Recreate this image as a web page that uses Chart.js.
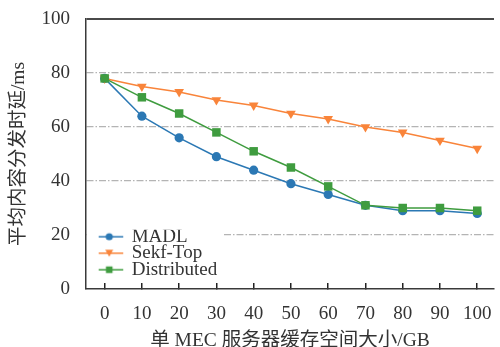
<!DOCTYPE html>
<html>
<head>
<meta charset="utf-8">
<script src="https://cdn.jsdelivr.net/npm/chart.js@4.4.1/dist/chart.umd.min.js"></script>
<style>
  html, body { margin: 0; padding: 0; background: #fff; }
</style>
</head>
<body>
<canvas id="myChart" width="500" height="347"></canvas>
<script>
var cacheSize = [0, 10, 20, 30, 40, 50, 60, 70, 80, 90, 100];
var madl = [78, 64, 56, 49, 44, 39, 35, 31, 29, 29, 28];
var sekfTop = [78, 75, 73, 70, 68, 65, 63, 60, 58, 55, 52];
var distributed = [78, 71, 65, 58, 51, 45, 38, 31, 30, 30, 29];
var seriesNames = ['MADL', 'Sekf-Top', 'Distributed'];
var yTickValues = [0, 20, 40, 60, 80, 100];

var blue = '#2b78b4';
var orange = '#f9843a';
var green = '#3f9c3f';
var textColor = '#333333';
var serif = "'Liberation Serif', 'Times New Roman', serif";
var mixed = "'Liberation Serif', 'Noto Sans CJK SC', serif";

function points(ys) {
  return ys.map(function (y, i) {
    return { x: cacheSize[i], y: y };
  });
}

// small line + marker icons for the legend
function legendIcon(color, shape) {
  var c = document.createElement('canvas');
  c.width = 30;
  c.height = 14;
  var g = c.getContext('2d');
  g.strokeStyle = color;
  g.fillStyle = color;
  g.lineWidth = 1.5;
  g.beginPath();
  g.moveTo(1, 7);
  g.lineTo(29, 7);
  g.stroke();
  g.beginPath();
  if (shape === 'circle') {
    g.arc(15, 7, 3.6, 0, Math.PI * 2);
  } else if (shape === 'rect') {
    g.rect(11.7, 3.7, 6.6, 6.6);
  } else {
    g.moveTo(11, 3.5);
    g.lineTo(19, 3.5);
    g.lineTo(15, 10.5);
    g.closePath();
  }
  g.fill();
  return c;
}
var icons = [legendIcon(blue, 'circle'), legendIcon(orange, 'tri'), legendIcon(green, 'rect')];

var legendPlace = {
  id: 'legendPlace',
  afterLayout: function (chart) {
    var lg = chart.legend;
    var a = chart.chartArea;
    lg.left = a.left + 12.7;
    lg.right = a.right;
    lg.top = a.bottom - 59.3;
    lg.bottom = a.bottom;
    lg.width = lg.right - lg.left;
    lg.height = lg.bottom - lg.top;
  },
  afterDatasetsDraw: function (chart) {
    var lg = chart.legend;
    var a = chart.chartArea;
    var g = chart.ctx;
    var right = 0;
    lg.legendHitBoxes.forEach(function (hb) {
      right = Math.max(right, hb.left + hb.width);
    });
    g.save();
    g.fillStyle = '#ffffff';
    g.fillRect(a.left + 1, lg.top - 5, right + 4 - a.left, 56);
    g.restore();
    lg.draw();
  }
};

var datasets = [
  {
    label: seriesNames[0],
    data: points(madl),
    borderColor: blue,
    backgroundColor: blue,
    pointStyle: 'circle',
    pointRadius: 4.6,
    order: 3
  },
  {
    label: seriesNames[1],
    data: points(sekfTop),
    borderColor: orange,
    backgroundColor: orange,
    pointStyle: 'triangle',
    pointRotation: 180,
    pointRadius: 5.6,
    order: 2
  },
  {
    label: seriesNames[2],
    data: points(distributed),
    borderColor: green,
    backgroundColor: green,
    pointStyle: 'rect',
    pointRadius: 6,
    order: 1
  }
];
datasets.forEach(function (d) {
  d.borderWidth = 1.5;
  d.pointBorderWidth = 0;
  d.tension = 0;
  d.fill = false;
});

var chart = new Chart(document.getElementById('myChart').getContext('2d'), {
  type: 'line',
  data: { datasets: datasets },
  plugins: [legendPlace],
  options: {
    responsive: false,
    animation: false,
    events: [],
    layout: { padding: { top: 19, right: 0, bottom: 0, left: 0 } },
    scales: {
      x: {
        type: 'linear',
        min: -5,
        max: 104.5,
        afterFit: function (s) {
          s.height = 58;
          s.paddingLeft = 0;
          s.paddingRight = 0;
        },
        ticks: {
          stepSize: 10,
          includeBounds: false,
          padding: 19.5,
          color: textColor,
          font: { family: serif, size: 19 }
        },
        grid: {
          drawOnChartArea: false,
          drawTicks: true,
          tickLength: -6,
          color: '#222222',
          lineWidth: 1.5
        },
        border: { display: true, color: '#3a3a3a', width: 1.5 },
        title: {
          display: true,
          text: '单 MEC 服务器缓存空间大小/GB',
          color: textColor,
          font: { family: mixed, size: 19.5 },
          padding: { top: 0, bottom: -6 }
        }
      },
      y: {
        min: 0,
        max: 100,
        afterFit: function (s) {
          s.width = 86;
          s.paddingTop = 0;
          s.paddingBottom = 0;
        },
        afterBuildTicks: function (s) {
          s.ticks = yTickValues.map(function (v) { return { value: v }; });
        },
        ticks: {
          padding: 16,
          color: textColor,
          font: { family: serif, size: 19 }
        },
        grid: {
          drawTicks: false,
          color: function (c) {
            if (!c.tick || c.tick.value === 0) return 'rgba(0,0,0,0)';
            return c.tick.value === 100 ? '#4a4a4a' : '#b4b4b4';
          },
          lineWidth: function (c) {
            return c.tick && c.tick.value === 100 ? 2 : 1.2;
          }
        },
        border: {
          display: true,
          color: '#3a3a3a',
          width: 1.5,
          dash: function (c) {
            return c.tick && c.tick.value === 100 ? [] : [7, 2, 1.5, 2];
          }
        },
        title: {
          display: true,
          text: '平均内容分发时延/ms',
          color: textColor,
          font: { family: mixed, size: 19.5 },
          padding: { top: 7, bottom: 0 }
        }
      }
    },
    plugins: {
      tooltip: { enabled: false },
      legend: {
        position: 'chartArea',
        align: 'start',
        labels: {
          usePointStyle: true,
          pointStyleWidth: 26,
          padding: -2.5,
          color: textColor,
          font: { family: serif, size: 19 },
          sort: function (a, b) { return a.datasetIndex - b.datasetIndex; },
          generateLabels: function (chart) {
            return chart.data.datasets.map(function (d, i) {
              return {
                text: d.label,
                datasetIndex: i,
                pointStyle: icons[i],
                fillStyle: d.backgroundColor,
                strokeStyle: d.borderColor,
                lineWidth: 0,
                fontColor: textColor,
                hidden: false
              };
            });
          }
        }
      }
    }
  }
});
</script>
</body>
</html>
